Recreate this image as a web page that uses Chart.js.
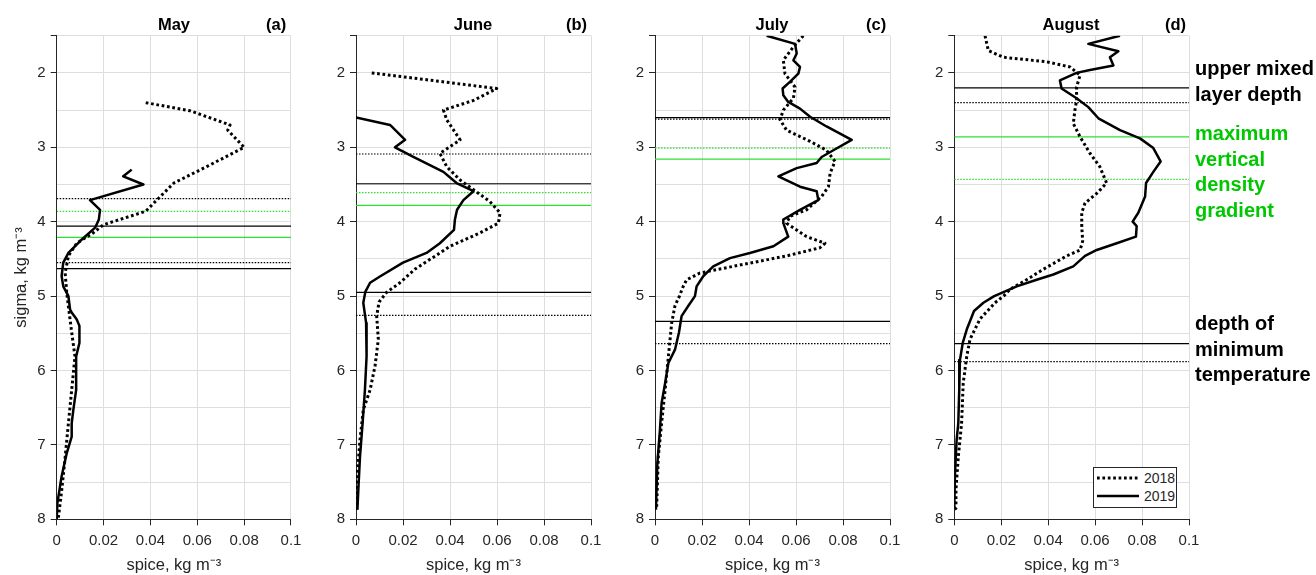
<!DOCTYPE html>
<html lang="en">
<head>
<meta charset="UTF-8">
<title>Spice vs sigma, May-August</title>
<script src="https://cdn.jsdelivr.net/npm/chart.js"></script>
<style>
  body { margin: 0; background: #fff; font-family: "Liberation Sans", Arial, sans-serif; }
  #wrap { position: relative; width: 1316px; height: 575px; overflow: hidden; }
  #wrap canvas { position: absolute; left: 0; top: 0; }
  .month { position: absolute; top: 14px; width: 120px; margin-left: -60px; text-align: center;
           font-weight: bold; font-size: 16.5px; line-height: 20px; color: #000; }
  .letter { position: absolute; top: 14px; font-weight: bold; font-size: 16.5px; line-height: 20px; color: #000; }
  .note { position: absolute; left: 1195px; font-weight: bold; font-size: 20px; line-height: 25.5px; white-space: nowrap; }
  #legend { position: absolute; left: 1093px; top: 467px; width: 82px; height: 39px;
            border: 1px solid #262626; background: #fff; }
  #legend span { position: absolute; left: 50px; font-size: 14px; line-height: 16px; color: #262626; }
</style>
</head>
<body>
<div id="wrap">
  <canvas id="c0" width="1316" height="575"></canvas>
  <canvas id="c1" width="1316" height="575"></canvas>
  <canvas id="c2" width="1316" height="575"></canvas>
  <canvas id="c3" width="1316" height="575"></canvas>

  <div class="month" style="left:174px">May</div>
  <div class="letter" style="left:266px">(a)</div>
  <div class="month" style="left:473px">June</div>
  <div class="letter" style="left:566px">(b)</div>
  <div class="month" style="left:772px">July</div>
  <div class="letter" style="left:866px">(c)</div>
  <div class="month" style="left:1071px">August</div>
  <div class="letter" style="left:1165px">(d)</div>

  <div class="note" style="top:56px;color:#000">upper mixed<br>layer depth</div>
  <div class="note" style="top:121px;color:#00c800">maximum<br>vertical<br>density<br>gradient</div>
  <div class="note" style="top:311px;color:#000">depth of<br>minimum<br>temperature</div>

  <div id="legend">
    <svg width="82" height="39" style="position:absolute;left:0;top:0">
      <line x1="3" y1="10" x2="45" y2="10" stroke="#000" stroke-width="3" stroke-dasharray="2.7 2.7"/>
      <line x1="3" y1="28" x2="45" y2="28" stroke="#000" stroke-width="2.7"/>
    </svg>
    <span style="top:2px">2018</span>
    <span style="top:20px">2019</span>
  </div>
</div>

<script>
// profiles: spice (x) against sigma (y)
const maySigma18 = [2.40, 2.51, 2.70, 2.77, 3.00, 3.26, 3.48, 3.70, 3.86, 4.04, 4.15, 4.29, 4.46, 4.69, 4.96, 5.49, 5.81, 6.26, 6.71, 7.17, 7.62, 7.98];
const maySpice18 = [0.038, 0.057, 0.074, 0.073, 0.080, 0.064, 0.050, 0.043, 0.038, 0.020, 0.0156, 0.0085, 0.005, 0.0036, 0.0043, 0.0064, 0.0078, 0.0064, 0.005, 0.0036, 0.0021, 0.0007];
const maySigma19 = [3.30, 3.39, 3.50, 3.71, 3.84, 3.97, 4.08, 4.26, 4.42, 4.55, 4.73, 4.87, 5.00, 5.18, 5.22, 5.31, 5.40, 5.63, 5.81, 6.26, 6.53, 6.71, 6.89, 7.11, 7.42, 7.78, 8.00];
const maySpice19 = [0.032, 0.0284, 0.037, 0.0142, 0.0185, 0.018, 0.0164, 0.010, 0.005, 0.0028, 0.0021, 0.0028, 0.005, 0.0057, 0.0064, 0.0085, 0.0097, 0.0097, 0.0083, 0.0083, 0.0071, 0.0064, 0.0064, 0.0043, 0.0021, 0.0003, 0.0];

const junSigma18 = [2.00, 2.21, 2.37, 2.50, 2.63, 2.90, 3.08, 3.26, 3.44, 3.57, 3.73, 3.88, 4.02, 4.15, 4.33, 4.42, 4.64, 4.82, 4.95, 5.08, 5.27, 5.58, 5.94, 6.26, 6.53, 6.93, 7.38, 7.87];
const junSpice18 = [0.0067, 0.0599, 0.050, 0.0372, 0.0386, 0.0443, 0.0357, 0.0386, 0.0443, 0.050, 0.057, 0.0613, 0.0606, 0.0528, 0.040, 0.0357, 0.025, 0.0187, 0.013, 0.0098, 0.0088, 0.0095, 0.0081, 0.006, 0.0031, 0.0017, 0.0006, 0.0003];
const junSigma19 = [2.60, 2.70, 2.90, 3.00, 3.13, 3.33, 3.48, 3.59, 3.71, 3.84, 3.97, 4.11, 4.29, 4.42, 4.55, 4.74, 4.82, 4.94, 5.09, 5.36, 5.81, 6.26, 6.71, 7.16, 7.60, 7.87];
const junSpice19 = [0.0, 0.0145, 0.0209, 0.0166, 0.0244, 0.0372, 0.0428, 0.050, 0.0457, 0.043, 0.0421, 0.0417, 0.0357, 0.030, 0.020, 0.010, 0.006, 0.004, 0.0031, 0.0043, 0.0045, 0.0038, 0.0028, 0.0017, 0.001, 0.0006];

const julSigma18 = [1.50, 1.65, 1.83, 2.01, 2.19, 2.34, 2.50, 2.63, 2.77, 2.92, 3.04, 3.19, 3.35, 3.53, 3.66, 3.84, 3.93, 4.02, 4.20, 4.29, 4.35, 4.46, 4.60, 4.69, 4.78, 4.87, 5.00, 5.13, 5.36, 5.81, 6.26, 6.71, 7.16, 7.83];
const julSpice18 = [0.0631, 0.0589, 0.0546, 0.0553, 0.0596, 0.0589, 0.0546, 0.0532, 0.056, 0.066, 0.073, 0.0766, 0.0745, 0.0738, 0.0709, 0.0645, 0.0574, 0.056, 0.0645, 0.0723, 0.0702, 0.056, 0.0333, 0.0191, 0.0135, 0.012, 0.0104, 0.0085, 0.0071, 0.0057, 0.0043, 0.0028, 0.0014, 0.0007];
const julSigma19 = [1.50, 1.61, 1.74, 1.83, 1.92, 2.01, 2.12, 2.21, 2.30, 2.39, 2.48, 2.59, 2.72, 2.90, 3.04, 3.13, 3.21, 3.28, 3.39, 3.53, 3.59, 3.71, 3.84, 3.97, 4.02, 4.20, 4.33, 4.42, 4.49, 4.60, 4.73, 4.87, 5.00, 5.13, 5.27, 5.49, 5.72, 5.90, 6.17, 6.44, 6.80, 7.25, 7.87];
const julSpice19 = [0.0475, 0.0596, 0.0603, 0.0589, 0.0617, 0.061, 0.0574, 0.0543, 0.0546, 0.0567, 0.0617, 0.066, 0.073, 0.0837, 0.0759, 0.0709, 0.0688, 0.0603, 0.0525, 0.0617, 0.0688, 0.0695, 0.0617, 0.0546, 0.0546, 0.0567, 0.0504, 0.0404, 0.0319, 0.0248, 0.0206, 0.0177, 0.017, 0.0142, 0.0113, 0.0102, 0.0085, 0.0057, 0.0043, 0.0028, 0.0021, 0.001, 0.0004];

const augSigma18 = [1.50, 1.70, 1.79, 1.85, 1.92, 2.03, 2.19, 2.37, 2.50, 2.68, 2.86, 3.08, 3.26, 3.48, 3.62, 3.75, 3.88, 4.06, 4.26, 4.38, 4.46, 4.64, 4.78, 4.91, 5.00, 5.09, 5.31, 5.58, 5.81, 6.17, 6.71, 7.16, 7.60, 7.83];
const augSpice18 = [0.0131, 0.0145, 0.0209, 0.0393, 0.0493, 0.0536, 0.0521, 0.0521, 0.0514, 0.0507, 0.0536, 0.0578, 0.062, 0.0649, 0.0607, 0.0557, 0.0543, 0.0543, 0.0547, 0.0536, 0.0479, 0.0379, 0.0308, 0.0237, 0.021, 0.0173, 0.0109, 0.0067, 0.0053, 0.0038, 0.0031, 0.0017, 0.0007, 0.0007];
const augSigma19 = [1.50, 1.61, 1.71, 1.79, 1.90, 1.96, 2.00, 2.10, 2.21, 2.34, 2.46, 2.61, 2.77, 2.88, 3.01, 3.19, 3.33, 3.48, 3.66, 3.88, 4.00, 4.06, 4.20, 4.29, 4.38, 4.46, 4.60, 4.71, 4.78, 4.87, 5.00, 5.09, 5.20, 5.45, 5.63, 5.86, 6.26, 6.71, 6.93, 7.38, 7.83, 7.87];
const augSpice19 = [0.0706, 0.0571, 0.0699, 0.0663, 0.0678, 0.0578, 0.0521, 0.045, 0.0457, 0.0521, 0.0571, 0.0614, 0.0706, 0.0791, 0.0848, 0.0879, 0.0848, 0.0817, 0.0813, 0.0784, 0.076, 0.0777, 0.0774, 0.0692, 0.0607, 0.0557, 0.0507, 0.0422, 0.0351, 0.0266, 0.017, 0.0124, 0.0084, 0.0053, 0.0036, 0.0024, 0.0021, 0.0017, 0.001, 0.0003, 0.0, 0.001];

// horizontal reference levels (sigma), one per month May..August
const mixedLayer18 = [3.69, 3.09, 2.62, 2.40];
const mixedLayer19 = [4.06, 3.49, 2.60, 2.20];
const densGrad18   = [3.86, 3.61, 3.01, 3.43];
const densGrad19   = [4.21, 3.78, 3.16, 2.86];
const minTemp18    = [4.55, 5.26, 5.64, 5.88];
const minTemp19    = [4.63, 4.95, 5.34, 5.64];

const xTicks = [0, 0.02, 0.04, 0.06, 0.08, 0.1];
const yTickLabels = [2, 3, 4, 5, 6, 7, 8];

const profiles = [
  [maySpice18, maySigma18, maySpice19, maySigma19],
  [junSpice18, junSigma18, junSpice19, junSigma19],
  [julSpice18, julSigma18, julSpice19, julSigma19],
  [augSpice18, augSigma18, augSpice19, augSigma19]
];

// plot area of each panel in page pixels
const areaLeft = [56.7, 356, 655, 954.3];
const areaRight = [291, 591, 890, 1189];
const areaTop = 35.7, areaBottom = 519.3;
const xAxisH = 57;

const axisCol = '#262626';
const gridCol = '#dedede';
const green = '#2ee02e';
const FONT = '"Liberation Sans", Arial, sans-serif';

function profile(xs, ys, dotted) {
  return {
    data: xs.map((x, i) => ({ x: x, y: ys[i] })),
    showLine: true,
    pointRadius: 0,
    borderColor: '#000',
    borderWidth: dotted ? 3 : 2.5,
    borderDash: dotted ? [2.7, 2.7] : [],
    borderJoinStyle: 'round',
    order: 0
  };
}

function level(y, color, dotted) {
  return {
    data: [{ x: 0, y: y }, { x: 0.1, y: y }],
    showLine: true,
    pointRadius: 0,
    borderColor: color,
    borderWidth: 1.2,
    borderDash: dotted ? [1.5, 1.5] : [],
    order: 1
  };
}

const isLabelled = v => yTickLabels.some(t => Math.abs(t - v) < 1e-6);

for (let p = 0; p < 4; p++) {
  const yw = p === 0 ? areaLeft[0] : 45;
  const [s18, g18, s19, g19] = profiles[p];

  new Chart(document.getElementById('c' + p), {
    type: 'scatter',
    data: {
      datasets: [
        profile(s19, g19, false),
        profile(s18, g18, true),
        level(mixedLayer18[p], '#000', true),
        level(mixedLayer19[p], '#000', false),
        level(densGrad18[p], green, true),
        level(densGrad19[p], green, false),
        level(minTemp18[p], '#000', true),
        level(minTemp19[p], '#000', false)
      ]
    },
    options: {
      responsive: false,
      animation: false,
      events: [],
      layout: {
        padding: {
          left: areaLeft[p] - yw,
          right: 1316 - areaRight[p],
          top: areaTop,
          bottom: 575 - areaBottom - xAxisH
        }
      },
      plugins: { legend: { display: false }, tooltip: { enabled: false } },
      scales: {
        x: {
          type: 'linear',
          min: 0,
          max: 0.1,
          afterBuildTicks: s => { s.ticks = xTicks.map(v => ({ value: v })); },
          afterFit: s => { s.height = xAxisH; },
          ticks: {
            maxRotation: 0,
            padding: 7,
            color: axisCol,
            font: { family: FONT, size: 15 },
            callback: v => String(Math.round(v * 100) / 100)
          },
          grid: { color: gridCol, tickLength: 6, tickColor: axisCol },
          border: { color: axisCol, width: 1 },
          title: {
            display: true,
            text: 'spice, kg m⁻³',
            color: axisCol,
            font: { family: FONT, size: 16.5 },
            padding: { top: 0, bottom: 1 }
          }
        },
        y: {
          type: 'linear',
          reverse: true,
          min: 1.5,
          max: 8,
          afterFit: s => { s.width = yw; },
          ticks: {
            stepSize: 0.5,
            autoSkip: false,
            padding: 5,
            color: axisCol,
            font: { family: FONT, size: 15 },
            callback: v => isLabelled(v) ? String(Math.round(v)) : ''
          },
          grid: {
            color: gridCol,
            tickLength: 6,
            tickColor: c => (c.tick && (isLabelled(c.tick.value) || Math.abs(c.tick.value - 1.5) < 1e-6)) ? axisCol : 'rgba(0,0,0,0)'
          },
          border: { color: axisCol, width: 1 },
          title: {
            display: p === 0,
            text: 'sigma, kg m⁻³',
            color: axisCol,
            font: { family: FONT, size: 16.5 },
            padding: { top: 12, bottom: 0 }
          }
        }
      }
    }
  });
}
</script>
</body>
</html>
